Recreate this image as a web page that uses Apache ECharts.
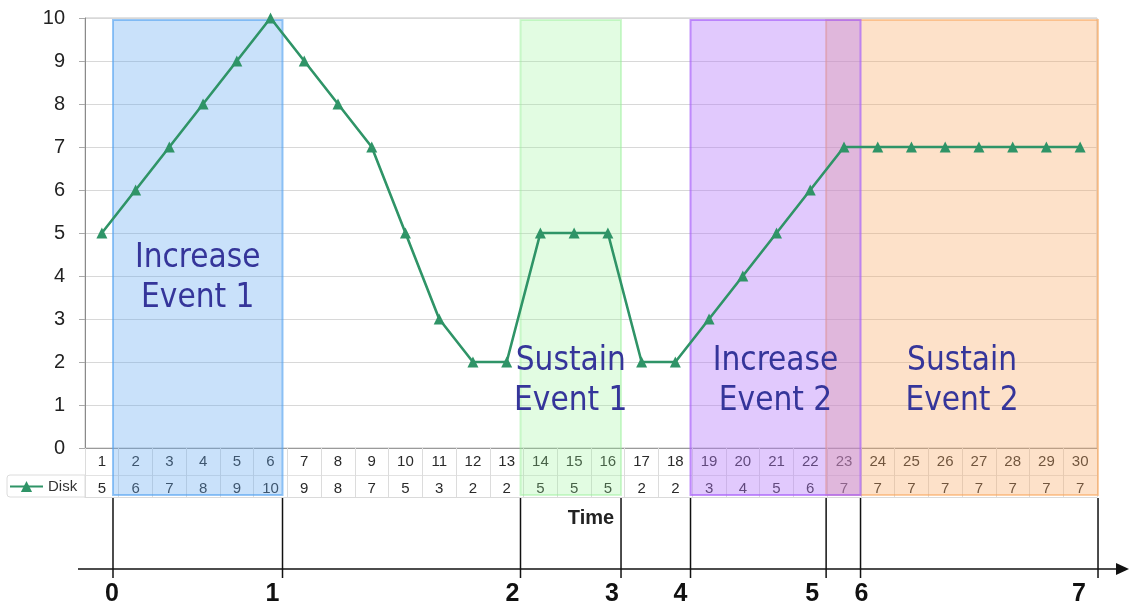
<!DOCTYPE html>
<html>
<head>
<meta charset="utf-8">
<script src="https://cdn.jsdelivr.net/npm/echarts@6/dist/echarts.min.js"></script>
<style>
  html, body { margin: 0; padding: 0; background: #ffffff; }
  #chart { width: 1129px; height: 607px; }
</style>
</head>
<body>
<div id="chart"></div>
<script>
// Sample numbers along the time axis
const samples = ['1','2','3','4','5','6','7','8','9','10','11','12','13','14','15',
                 '16','17','18','19','20','21','22','23','24','25','26','27','28','29','30'];
// Disk load per sample
const disk = [5, 6, 7, 8, 9, 10, 9, 8, 7, 5, 3, 2, 2, 5, 5, 5, 2, 2, 3, 4, 5, 6, 7, 7, 7, 7, 7, 7, 7, 7];
// Value axis range
const yMin = 0, yMax = 10, yStep = 1;
// Event instants on the time line, measured in sample cells from the left edge
const eventTimes = [0.83, 5.855, 12.91, 15.89, 17.95, 21.97, 22.99, 30.03];
const eventLabels = ['0', '1', '2', '3', '4', '5', '6', '7'];
// Phases between events: [start event, end event]; orange is drawn before purple
const phaseSpans = [[0, 1], [2, 3], [5, 7], [4, 6]];
const phaseNames = ['Increase\nEvent 1', 'Sustain\nEvent 1', 'Sustain\nEvent 2', 'Increase\nEvent 2'];

// ---- styling / layout ----
const phaseFill = ['rgba(100,170,240,0.35)', 'rgba(150,245,150,0.28)', 'rgba(250,170,100,0.35)', 'rgba(180,120,250,0.40)'];
const phaseStroke = ['rgba(80,160,240,0.60)', 'rgba(150,240,150,0.45)', 'rgba(250,165,90,0.55)', 'rgba(170,100,250,0.70)'];
const captionLevel = [3.95, 1.55, 1.55, 1.55];       // vertical centre of each caption, in axis units
const eventLabelNudge = [-1, -10, -8, -9, -10, -14, 1, -19]; // px
const lineColor = '#2f9467';
const tableDepth = 49;   // height of the data table under the plot
const timelineY = 121;   // timeline offset below the plot's x axis

const chart = echarts.init(document.getElementById('chart'), null, { renderer: 'canvas' });

const option = {
  animation: false,
  backgroundColor: '#ffffff',
  grid: {
    left: 85, right: 32, top: 18, bottom: 159,
    show: true, borderColor: '#c4c4c4', borderWidth: 1, backgroundColor: 'transparent'
  },
  legend: {
    data: ['Disk'],
    left: 9, top: 479, padding: 0,
    itemWidth: 33, itemHeight: 14, itemGap: 4,
    textStyle: { fontFamily: 'Liberation Sans', fontSize: 15, color: '#333' }
  },
  xAxis: [
    {
      type: 'category', data: samples, position: 'bottom', boundaryGap: true,
      axisLine: { lineStyle: { color: '#9a9a9a' } },
      axisTick: { show: true, interval: 0, length: tableDepth, lineStyle: { color: '#dcdcdc' } },
      axisLabel: { interval: 0, margin: 6, fontFamily: 'Liberation Sans', fontSize: 15, color: '#2a2a2a' },
      name: 'Time', nameLocation: 'middle', nameGap: 60,
      nameTextStyle: { fontFamily: 'Liberation Sans', fontWeight: 'bold', fontSize: 20, color: '#222' }
    },
    {
      type: 'category', data: disk.map(String), position: 'bottom', offset: 27, boundaryGap: true,
      axisLine: { lineStyle: { color: '#e2e2e2' } },
      axisTick: { show: false },
      axisLabel: { interval: 0, margin: 6, fontFamily: 'Liberation Sans', fontSize: 15, color: '#2a2a2a' }
    },
    {
      type: 'category', data: samples, position: 'bottom', offset: tableDepth, boundaryGap: true,
      axisLine: { lineStyle: { color: '#dadada' } },
      axisTick: { show: false },
      axisLabel: { show: false }
    },
    { type: 'value', min: 0, max: samples.length, show: false }
  ],
  yAxis: {
    type: 'value', min: yMin, max: yMax, interval: yStep,
    axisLine: { show: true, lineStyle: { color: '#8a8a8a' } },
    axisTick: { show: true, length: 6, lineStyle: { color: '#aaa' } },
    axisLabel: { margin: 20, fontFamily: 'Liberation Sans', fontSize: 20, color: '#222' },
    splitLine: { lineStyle: { color: '#d8d8d8' } }
  },
  graphic: [
    // header cell of the table's data row
    { type: 'rect', z: 0, shape: { x: 7, y: 475, width: 78, height: 22, r: [3, 0, 0, 3] },
      style: { fill: '#ffffff', stroke: '#dcdcdc', lineWidth: 1 } },
    // time line with arrow
    { type: 'line', z: 5, shape: { x1: 78, y1: 448 + timelineY, x2: 1120, y2: 448 + timelineY },
      style: { stroke: '#111', lineWidth: 1.6 } },
    { type: 'polygon', z: 5, shape: { points: [[1116, 563], [1129, 569], [1116, 575]] },
      style: { fill: '#111' } }
  ],
  series: [
    {
      name: 'phases', type: 'custom', xAxisIndex: 3, yAxisIndex: 0, z: 1, clip: false,
      data: phaseSpans.map((s, i) => [eventTimes[s[0]], eventTimes[s[1]], i]),
      encode: { x: [0, 1] },
      renderItem: function (params, api) {
        const x0 = api.value(0), x1 = api.value(1), i = api.value(2);
        const pTop = api.coord([x0, yMax]);
        const pBot = api.coord([x1, yMin]);
        const top = pTop[1] + 2;
        const bottom = pBot[1] + tableDepth - 2;
        const cap = api.coord([(x0 + x1) / 2, captionLevel[i]]);
        return {
          type: 'group',
          children: [
            { type: 'rect',
              shape: { x: pTop[0], y: top, width: pBot[0] - pTop[0], height: bottom - top },
              style: { fill: phaseFill[i], stroke: phaseStroke[i], lineWidth: 2 } },
            { type: 'text', x: cap[0], y: cap[1],
              style: { text: phaseNames[i], fill: '#35359a', align: 'center', verticalAlign: 'middle',
                       fontFamily: '"DejaVu Sans Condensed", "DejaVu Sans"', fontSize: 33, lineHeight: 40 } }
          ]
        };
      }
    },
    {
      name: 'events', type: 'custom', xAxisIndex: 3, yAxisIndex: 0, z: 5, clip: false,
      data: eventTimes.map((t, i) => [t, i]),
      encode: { x: 0 },
      renderItem: function (params, api) {
        const t = api.value(0), i = api.value(1);
        const p = api.coord([t, yMin]);
        return {
          type: 'group',
          children: [
            { type: 'line', shape: { x1: p[0], y1: p[1] + 50, x2: p[0], y2: p[1] + 130 },
              style: { stroke: '#111', lineWidth: 1.5 } },
            { type: 'text', x: p[0] + eventLabelNudge[i], y: p[1] + 146,
              style: { text: eventLabels[i], fill: '#111', align: 'center', verticalAlign: 'middle',
                       fontFamily: 'Liberation Sans', fontWeight: 'bold', fontSize: 25 } }
          ]
        };
      }
    },
    {
      name: 'Disk', type: 'line', xAxisIndex: 0, yAxisIndex: 0, z: 4,
      data: disk,
      symbol: 'triangle', symbolSize: 11, showAllSymbol: true,
      lineStyle: { color: lineColor, width: 2.6 },
      itemStyle: { color: lineColor }
    }
  ]
};

chart.setOption(option);
</script>
</body>
</html>
